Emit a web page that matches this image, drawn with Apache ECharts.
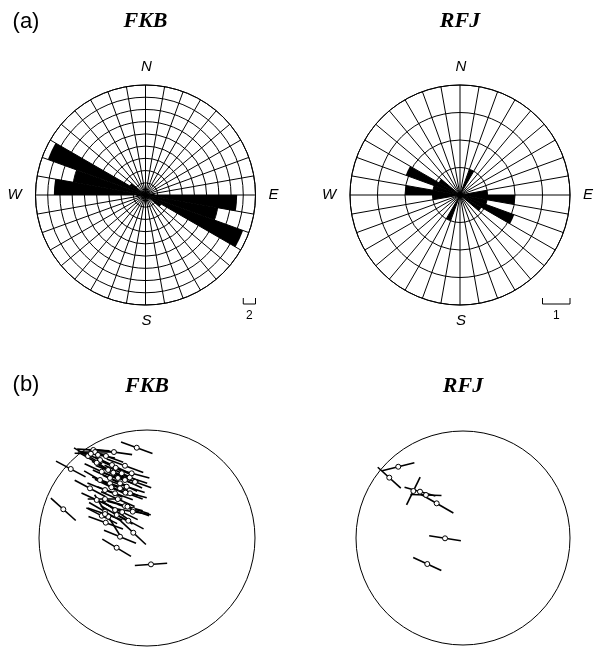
<!DOCTYPE html>
<html>
<head>
<meta charset="utf-8">
<script src="https://cdn.jsdelivr.net/npm/echarts@6/dist/echarts.min.js"></script>
<style>
  html, body { margin: 0; background: #fff; }
  #chart { width: 594px; height: 651px; }
</style>
</head>
<body>
<div id="chart"></div>
<script>
// 10 degree sectors, azimuth of sector start (clockwise from N)
const sectors = ['0','10','20','30','40','50','60','70','80','90','100','110','120','130','140','150','160','170',
                 '180','190','200','210','220','230','240','250','260','270','280','290','300','310','320','330','340','350'];

// rose petal lengths (same units as the scale bars)
const fkbRose = [0,0,0,0,0,0,0,0,1.5, 15,12,17,3, 0,0,0,0,0, 0,0,0,0,0,0,0,0,1.5, 15,12,17,3, 0,0,0,0,0];
const rfjRose = [0,0,1,0,0,0,0,0,1, 2,1,2.1,0.9, 0,0,0,0,0, 0,0,1,0,0,0,0,0,1, 2,1,2.1,0.9, 0,0,0,0,0];
const fkbScale = 2;
const fkbMax = 18;
const rfjScale = 1;
const rfjMax = 4;

// stereonet poles: [x, y, segment angle (deg, + = falling to the right), segment length]; net radius = 1
const fkbPoles = [
  [-0.095, 0.836, 20, 0.31], [-0.497, 0.815, 3, 0.30], [-0.306, 0.796, 8, 0.34], [-0.706, 0.639, 28, 0.31],
  [-0.775, 0.266, 42, 0.31], [0.037, -0.244, -4, 0.30], [-0.281, -0.090, 31, 0.31], [-0.127, 0.049, 43, 0.32],
  [-0.435, 0.722, 25, 0.35], [-0.466, 0.697, 30, 0.34], [-0.204, 0.669, 20, 0.36], [-0.419, 0.614, 25, 0.35],
  [-0.312, 0.605, 22, 0.35], [-0.234, 0.599, 25, 0.35], [-0.142, 0.599, 15, 0.34], [-0.343, 0.506, 20, 0.35],
  [-0.250, 0.506, 25, 0.35], [-0.188, 0.475, 18, 0.35], [-0.528, 0.460, 28, 0.32], [-0.389, 0.444, 22, 0.35],
  [-0.296, 0.414, 20, 0.35], [-0.157, 0.414, 15, 0.32], [-0.466, 0.352, 25, 0.31], [-0.389, 0.361, 0, 0.32],
  [-0.127, 0.259, 20, 0.31], [-0.389, 0.244, 30, 0.34], [-0.281, 0.213, 30, 0.34], [-0.419, 0.206, 27, 0.32],
  [-0.382, 0.142, 20, 0.34], [-0.250, 0.012, 22, 0.32], [-0.296, 0.259, 35, 0.30], [-0.132, 0.244, 10, 0.34],
  [-0.173, 0.160, 28, 0.32], [-0.358, 0.197, 58, 0.48], [-0.343, 0.556, 25, 0.35], [-0.269, 0.556, 20, 0.35],
  [-0.204, 0.537, 25, 0.35], [-0.111, 0.519, 20, 0.32], [-0.435, 0.537, 30, 0.34], [-0.324, 0.676, 25, 0.35],
  [-0.380, 0.759, 20, 0.34], [-0.546, 0.759, 30, 0.30], [-0.481, 0.796, 0, 0.32], [-0.454, 0.769, 10, 0.32],
  [-0.204, 0.296, 15, 0.34], [-0.181, 0.290, 18, 0.42], [-0.389, 0.222, 19, 0.34], [-0.290, 0.650, 24, 0.36],
  [-0.250, 0.460, 22, 0.36], [-0.330, 0.470, 26, 0.34], [-0.200, 0.420, 20, 0.34], [-0.270, 0.360, 24, 0.34],
  [-0.160, 0.560, 18, 0.34], [-0.360, 0.630, 28, 0.34], [-0.230, 0.240, 26, 0.32], [-0.520, 0.780, 2, 0.30]
];
const rfjPoles = [
  [-0.605, 0.666, -14, 0.31], [-0.689, 0.564, 42, 0.29], [-0.464, 0.439, -64, 0.29], [-0.402, 0.433, 16, 0.30],
  [-0.346, 0.402, 2, 0.29], [-0.246, 0.324, 30, 0.36], [-0.168, -0.003, 9, 0.30], [-0.334, -0.243, 25, 0.29]
];

const roses = [
  { name: 'FKB', center: [145.5, 195], radius: 110, values: fkbRose, max: fkbMax, step: fkbScale },
  { name: 'RFJ', center: [460, 195], radius: 110, values: rfjRose, max: rfjMax, step: rfjScale }
];
const nets = [
  { name: 'FKB', left: 39, top: 430, size: 216, poles: fkbPoles },
  { name: 'RFJ', left: 356, top: 431, size: 214, poles: rfjPoles }
];

const black = '#000';
const sans = 'Liberation Sans, Arial, sans-serif';
const serif = 'Liberation Serif, Times New Roman, serif';

const chart = echarts.init(document.getElementById('chart'), null, { renderer: 'canvas' });

const texts = [];
const addText = (text, x, y, font) => texts.push({
  type: 'text', x, y, silent: true,
  style: { text, font, fill: black, textAlign: 'center', textVerticalAlign: 'middle' }
});

addText('(a)', 26, 22, '22px ' + sans);
addText('(b)', 26, 385, '22px ' + sans);

roses.forEach((r) => {
  const [cx, cy] = r.center;
  addText(r.name, cx, 21, 'italic bold 22px ' + serif);
  addText('N', cx + 1, cy - 128, 'italic 15px ' + sans);
  addText('S', cx + 1, cy + 126, 'italic 15px ' + sans);
  addText('W', cx - 131, cy, 'italic 15px ' + sans);
  addText('E', cx + 128, cy, 'italic 15px ' + sans);
  // scale bar: one ring spacing
  const w = r.radius * r.step / r.max;
  const x2 = cx + r.radius;
  texts.push({
    type: 'polyline', silent: true,
    shape: { points: [[x2 - w, cy + 103], [x2 - w, cy + 109], [x2, cy + 109], [x2, cy + 103]] },
    style: { stroke: black, fill: 'none', lineWidth: 1 }
  });
  addText(String(r.step), x2 - w / 2, cy + 121, '12px ' + sans);
});

nets.forEach((n) => addText(n.name, n.left + n.size / 2, 386, 'italic bold 22px ' + serif));

const gridLine = { color: black, width: 1 };

const series = [];
roses.forEach((r, i) => {
  series.push({
    type: 'bar', coordinateSystem: 'polar', polarIndex: i,
    data: r.values, barCategoryGap: '0%', silent: true,
    itemStyle: { color: black }
  });
});

nets.forEach((n, i) => {
  series.push({
    type: 'custom', xAxisIndex: i, yAxisIndex: i, silent: true,
    data: [[0, 0]],
    renderItem: (params, api) => {
      const c = api.coord([0, 0]);
      const rad = api.size([1, 1])[0];
      return { type: 'circle', shape: { cx: c[0], cy: c[1], r: rad }, style: { fill: 'none', stroke: black, lineWidth: 1 } };
    }
  });
  series.push({
    type: 'custom', xAxisIndex: i, yAxisIndex: i, silent: true,
    data: n.poles, encode: { x: 0, y: 1 },
    renderItem: (params, api) => {
      const x = api.value(0), y = api.value(1);
      const a = api.value(2) * Math.PI / 180, h = api.value(3) / 2;
      const dx = Math.cos(a) * h, dy = -Math.sin(a) * h;
      const p1 = api.coord([x - dx, y - dy]);
      const p2 = api.coord([x + dx, y + dy]);
      return { type: 'line', shape: { x1: p1[0], y1: p1[1], x2: p2[0], y2: p2[1] }, style: { stroke: black, lineWidth: 1.6 } };
    }
  });
  series.push({
    type: 'scatter', xAxisIndex: i, yAxisIndex: i, silent: true,
    data: n.poles.map((p) => [p[0], p[1]]),
    symbol: 'circle', symbolSize: 5,
    itemStyle: { color: '#fff', borderColor: black, borderWidth: 1, opacity: 1 }
  });
});

chart.setOption({
  animation: false,
  backgroundColor: '#fff',
  polar: roses.map((r) => ({ center: r.center, radius: r.radius })),
  angleAxis: roses.map((r, i) => ({
    polarIndex: i, type: 'category', data: sectors,
    startAngle: 90, clockwise: true, boundaryGap: true,
    axisLine: { show: true, lineStyle: gridLine },
    axisTick: { show: false },
    axisLabel: { show: false, interval: 0 },
    splitLine: { show: true, interval: 0, lineStyle: gridLine }
  })),
  radiusAxis: roses.map((r, i) => ({
    polarIndex: i, type: 'value', min: 0, max: r.max, interval: r.step,
    axisLine: { show: false }, axisTick: { show: false }, axisLabel: { show: false },
    splitLine: { show: true, lineStyle: gridLine }
  })),
  grid: nets.map((n) => ({ left: n.left, top: n.top, width: n.size, height: n.size })),
  xAxis: nets.map((n, i) => ({ gridIndex: i, type: 'value', min: -1, max: 1, show: false })),
  yAxis: nets.map((n, i) => ({ gridIndex: i, type: 'value', min: -1, max: 1, show: false })),
  graphic: { elements: texts },
  series
});
</script>
</body>
</html>
